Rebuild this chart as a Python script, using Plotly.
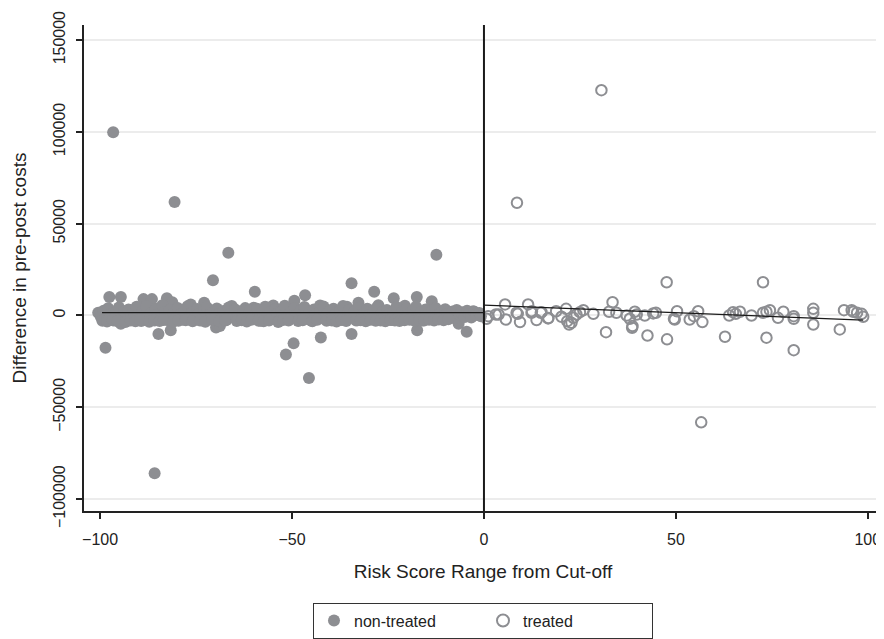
import plotly.graph_objects as go

# ---------------- data ----------------
# non-treated (filled) observations
nt_x = [
    -96.6, -80.6, -66.6, -12.4, -70.6, -34.5, -59.7, -28.6, -97.6, -94.6,
    -46.6, -17.5, -23.5, -49.4, -13.6, -88.7, -86.5, -82.6, -98.6, -94.6,
    -84.8, -81.6, -69.8, -51.6, -49.6, -42.5, -34.5, -17.4, -6.6, -4.5,
    -85.8, -45.6, -81.2, -76.4, -72.9, -65.7, -60.0, -54.9, -42.7, -35.7,
    -32.7, -68.8, -27.5, -20.6, -2.8, -5.6, -8.4, -100.5,
    # dense band
    -99.8, -99.1, -98.5, -97.9, -97.2, -96.4, -95.9, -95.1, -94.2, -93.7,
    -93.0, -92.6, -91.8, -91.3, -90.5, -90.1, -89.3, -88.9, -88.0, -87.6,
    -86.8, -86.1, -85.5, -85.1, -84.2, -83.8, -83.1, -82.3, -81.9, -81.0,
    -80.4, -79.8, -79.3, -78.5, -78.1, -77.2, -76.8, -76.0, -75.5, -74.7,
    -74.3, -73.4, -73.0, -72.2, -71.7, -71.1, -70.3, -69.6, -69.2, -68.4,
    -67.9, -67.1, -66.5, -66.0, -65.2, -64.8, -63.9, -63.5, -62.7, -62.2,
    -61.4, -61.0, -60.1, -59.5, -59.1, -58.2, -57.8, -57.0, -56.5, -55.7,
    -55.3, -54.4, -54.0, -53.2, -52.7, -51.9, -51.5, -50.6, -50.2, -49.3,
    -48.9, -48.1, -47.7, -46.8, -46.4, -45.6, -45.1, -44.3, -43.9, -43.0,
    -42.6, -41.8, -41.3, -40.5, -40.1, -39.2, -38.8, -38.0, -37.5, -36.7,
    -36.3, -35.4, -35.0, -34.2, -33.7, -32.9, -32.5, -31.6, -31.2, -30.4,
    -29.9, -29.1, -28.7, -27.8, -27.4, -26.6, -26.1, -25.3, -24.9, -24.0,
    -23.6, -22.8, -22.3, -21.5, -21.1, -20.2, -19.8, -19.0, -18.5, -17.7,
    -17.3, -16.4, -16.0, -15.2, -14.7, -13.9, -13.5, -12.6, -12.2, -11.4,
    -10.9, -10.1, -9.7, -8.8, -8.2, -7.6, -7.1, -6.3, -5.9, -5.0,
    -4.4, -3.8, -3.3, -2.5, -2.1, -1.2, -0.8,
    -99.4, -98.2, -96.7, -95.4, -93.4, -92.0, -90.8, -89.6, -87.2, -85.8,
    -84.5, -83.4, -80.9, -79.6, -77.7, -75.9, -74.0, -72.6, -70.8, -68.9,
    -67.4, -64.4, -63.1, -61.8, -60.6, -58.7, -57.4, -56.0, -53.6, -52.3,
    -50.9, -48.4, -47.2, -44.7, -43.4, -41.0, -39.6, -38.4, -37.1, -35.9,
    -33.3, -32.1, -30.8, -29.5, -28.2, -26.9, -25.7, -24.4, -23.2, -22.0,
    -20.7, -19.4, -18.1, -16.8, -15.6, -14.3, -13.0, -11.8, -10.5, -9.3,
]
nt_y = [
    99800, 61800, 34200, 33100, 19200, 17600, 12900, 12900, 10100, 10100,
    11000, 10100, 9400, 8000, 7800, 8900, 8900, 9400, -17600, -4500,
    -10100, -8000, -6500, -21200, -15200, -12000, -10100, -8000, -4500, -8900,
    -86000, -34000, 7200, 6000, 6900, 5100, 4200, 5400, 5400, 4700,
    6900, -5800, 5600, 5300, 2300, 1500, 1200, 1500,
    # dense band
    -800, 2600, -1500, 3900, 600, -2700, 1800, 4400, -1100, 2100,
    -2400, 3300, 700, -1800, 4800, 200, -3000, 2500, 5200, -600,
    1400, -2100, 3700, 400, -1300, 5600, 1900, -2600, 3000, 800,
    -1700, 4100, 300, -2300, 2200, 5000, -900, 1600, -1900, 3500,
    600, -2800, 2700, 4500, -400, 1100, -2000, 3800, 500, -1400,
    2400, -2500, 4300, 900, -1000, 3200, 100, -2200, 1700, 4000,
    -700, 2900, -1600, 600, 3600, -2900, 1300, 4700, -300, 2000,
    -1800, 3400, 800, -2400, 2600, 5300, -1200, 1500, -500, 3900,
    300, -2100, 2800, 4600, -900, 1200, -2700, 3300, 700, -1500,
    2300, 4900, -600, 1800, -2300, 3600, 400, -1100, 2700, 5100,
    -1900, 1000, 3100, -700, 2400, -2600, 4200, 900, -1300, 3700,
    200, -2000, 2900, 4400, -500, 1600, -1700, 3000, 700, -2500,
    2100, 4600, -1000, 1300, -2200, 3500, 500, -1400, 2500, 4800,
    -800, 1900, -2800, 3200, 100, -1600, 2800, 4100, -300, 1100,
    -2000, 3400, 600, -1200, 2200, -1500, 3000, 400, 1700, -900,
    2600, 800, -1100, 2000, 300, 1400, -400,
    -2900, -3300, -2600, -3100, -3500, -2800, -3200, -2400, -3400, -2700,
    -3000, -2500, -3300, -2900, -2600, -3200, -2800, -3400, -2300, -3100,
    -2700, -3000, -2600, -3300, -2400, -2900, -3100, -2700, -3500, -2500,
    -2800, -3000, -2600, -3200, -2400, -2900, -2700, -3300, -2500, -3000,
    -2800, -2600, -3100, -2400, -2900, -2700, -3200, -2500, -2800, -3000,
    -2600, -2300, -2900, -2500, -2700, -2400, -2800, -2200, -2600, -2100,
]

# treated (hollow) observations
tr_x = [
    30.6, 8.6, 56.6, 1.1, 3.1, 5.5, 5.7, 8.5, 9.4, 11.5,
    12.4, 13.7, 15.0, 16.7, 18.8, 20.2, 21.4, 21.7, 22.2, 22.8,
    23.3, 24.1, 25.0, 25.9, 28.5, 31.8, 33.5, 32.6, 34.5, 37.2,
    38.0, 38.7, 38.6, 39.3, 39.8, 41.9, 42.6, 44.1, 44.8, 47.6,
    47.7, 49.7, 50.3, 53.6, 54.7, 55.8, 56.9, 62.8, 63.9, 64.9,
    65.6, 66.7, 69.7, 72.7, 72.7, 73.6, 74.5, 76.6, 73.6, 78.0,
    80.7, 80.7, 80.7, 85.8, 85.8, 85.8, 92.7, 93.8, 95.8, 96.2,
    97.2, 98.4, 98.8, 0.7, 3.8, 16.8, 14.8, 12.5, 8.8, 49.5,
]
tr_y = [
    122700, 61400, -58200, -400, 500, 6000, -2200, 1500, -3600, 6000,
    1500, -2500, 1800, -1600, 2300, -700, 3600, -3100, -4900, -4000,
    -1300, 500, 1800, 2900, 900, -9100, 7200, 2000, 1500, 0,
    -1800, -5800, -6700, 2000, 500, 0, -10900, 1100, 1500, 18100,
    -13000, -2200, 2300, -2200, -400, 2300, -3600, -11600, 0, 1800,
    900, 2000, 0, 18100, 1500, 2000, 2900, -1300, -12100, 2000,
    -400, -1800, -18900, 3600, 1500, -4900, -7600, 2900, 2900, 2000,
    1500, 900, -700, -1800, 500, -1400, 1500, 2300, 900, -1800,
]

# fitted lines (intercept, slope) and their x-extent
fit_nt = {"x": [-99.5, 0.0], "intercept": 1500.0, "slope": 0.0}
fit_tr = {"x": [0.0, 98.8], "intercept": 5600.0, "slope": -82.0}
cutoff = 0

x_tick_vals = [-100, -50, 0, 50, 100]
x_tick_text = ["\u2212100", "\u221250", "0", "50", "100"]
y_tick_vals = [-100000, -50000, 0, 50000, 100000, 150000]
y_tick_text = ["\u2212100000", "\u221250000", "0", "50000", "100000", "150000"]

# ---------------- figure ----------------
GRAY = "#8d8e92"
FONT = "Liberation Sans, Arial, Helvetica, sans-serif"

fig = go.Figure()
fig.add_trace(go.Scatter(
    x=nt_x, y=nt_y, mode="markers", name="non-treated",
    marker=dict(symbol="circle", size=12, color=GRAY, line=dict(width=0)),
))
fig.add_trace(go.Scatter(
    x=tr_x, y=tr_y, mode="markers", name="treated",
    marker=dict(symbol="circle-open", size=10.5, color=GRAY, line=dict(width=2, color=GRAY)),
))
for f in (fit_nt, fit_tr):
    ys = [f["intercept"] + f["slope"] * xv for xv in f["x"]]
    fig.add_trace(go.Scatter(
        x=f["x"], y=ys, mode="lines", showlegend=False,
        line=dict(color="#1a1a1a", width=1.3), hoverinfo="skip",
    ))

fig.add_shape(type="line", x0=cutoff, x1=cutoff, xref="x", yref="paper",
              y0=0, y1=1, line=dict(color="#1a1a1a", width=2))

fig.update_layout(
    width=884, height=639,
    margin=dict(l=76, r=10, t=17, b=135),
    paper_bgcolor="white", plot_bgcolor="white",
    font=dict(family=FONT, size=16, color="#222222"),
    showlegend=True,
    legend=dict(
        orientation="h", x=0.5, xanchor="center", y=-0.186, yanchor="top",
        bordercolor="#333333", borderwidth=1, bgcolor="white",
        font=dict(size=16), itemsizing="constant", entrywidth=124,
    ),
    xaxis=dict(
        range=[-104.2, 103.7], tickmode="array", tickvals=x_tick_vals, ticktext=x_tick_text,
        showgrid=False, zeroline=False, showline=True, linecolor="#222222", linewidth=1.5,
        ticks="outside", ticklen=6, tickwidth=1.5, tickcolor="#222222",
        ticklabelstandoff=7, automargin=False,
        title=dict(text="Risk Score Range from Cut-off", standoff=18),
    ),
    yaxis=dict(
        range=[-106500, 158200], tickmode="array", tickvals=y_tick_vals, ticktext=y_tick_text,
        tickangle=-90, showgrid=True, gridcolor="#ececec", gridwidth=1.5,
        zeroline=False, showline=True, linecolor="#222222", linewidth=1.5,
        ticks="outside", ticklen=6, tickwidth=1.5, tickcolor="#222222",
        ticklabelstandoff=5, automargin=False,
        title=dict(text="Difference in pre-post costs", standoff=19),
    ),
)

fig.write_html("out.html")
